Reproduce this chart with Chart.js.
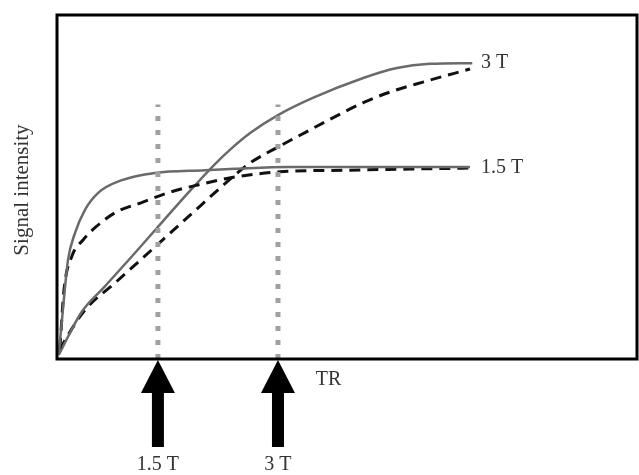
<!DOCTYPE html>
<html>
<head>
<meta charset="utf-8">
<script src="https://cdn.jsdelivr.net/npm/chart.js@4/dist/chart.umd.min.js"></script>
<style>
  html, body { margin: 0; padding: 0; background: #fff; }
  #wrap { width: 639px; height: 475px; position: relative; }
</style>
</head>
<body>
<div id="wrap"><canvas id="trChart"></canvas></div>
<script>
// ---- data (TR on x, signal on y, arbitrary units 0..100) ----
const solid15x = [0.3, 1.0, 1.9, 3.1, 4.8, 7.1, 11.2, 16.9, 25.5, 30.7, 40, 71.2];
const solid15y = [1.2, 14, 28.8, 36.6, 43.3, 48.3, 52, 54.1, 54.9, 55.3, 55.8, 55.8];

const dash15x = [0.5, 1.2, 2.6, 4.5, 6.7, 10.2, 14.8, 19.1, 24.3, 30.7, 38.4, 50.5, 71.2];
const dash15y = [3, 20, 30, 34.6, 38.4, 42.7, 45.6, 48.3, 50.6, 52.9, 54.4, 54.9, 55.5];

const solid3x = [0.3, 4.3, 8.3, 12.9, 17.4, 22.6, 27.2, 29.8, 33.3, 38.1, 44.1, 52.8, 58.6, 64.3, 71.6];
const solid3y = [1.2, 13.8, 21.2, 29.8, 38.4, 48.3, 56.6, 60.8, 65.7, 70.9, 75.9, 81.7, 84.6, 85.8, 86];

const dash3x = [0.5, 1.4, 4.8, 10.0, 16.9, 22.6, 30.7, 33.3, 38.4, 41.4, 47.1, 52.8, 57.4, 63.1, 71.2];
const dash3y = [2.6, 5.5, 14.2, 22.1, 32.6, 41.3, 53.5, 57, 61.9, 64.6, 69.7, 74.5, 77.6, 80.5, 84.3];

// optimal TR markers
const markerLabels = ['1.5 T', '3 T'];
const markerX = [17.4, 38.1];
const markerTop = 74;

const endLabels = ['3 T', '1.5 T'];
const endLabelY = [86.3, 55.8];
const endLabelX = 71.2;

function pts(xs, ys) {
  return xs.map((x, i) => ({ x: x, y: ys[i] }));
}

const serif = '"Liberation Serif", "DejaVu Serif", serif';

// box, arrows and texts
const decorPlugin = {
  id: 'decor',
  afterDraw(chart) {
    const ctx = chart.ctx;
    const a = chart.chartArea;
    const xs = chart.scales.x;
    const ys = chart.scales.y;
    ctx.save();

    // frame
    ctx.strokeStyle = '#000';
    ctx.lineWidth = 3;
    ctx.strokeRect(a.left, a.top, a.right - a.left, a.bottom - a.top);

    // arrows under the axis
    ctx.fillStyle = '#000';
    markerX.forEach(v => {
      const px = xs.getPixelForValue(v);
      const tip = a.bottom + 1;
      ctx.beginPath();
      ctx.moveTo(px, tip);
      ctx.lineTo(px + 17, tip + 33);
      ctx.lineTo(px + 6, tip + 33);
      ctx.lineTo(px + 6, tip + 87);
      ctx.lineTo(px - 6, tip + 87);
      ctx.lineTo(px - 6, tip + 33);
      ctx.lineTo(px - 17, tip + 33);
      ctx.closePath();
      ctx.fill();
    });

    ctx.fillStyle = '#333';
    ctx.font = '20px ' + serif;
    ctx.textBaseline = 'middle';
    ctx.textAlign = 'center';
    markerX.forEach((v, i) => {
      ctx.fillText(markerLabels[i], xs.getPixelForValue(v), a.bottom + 106);
    });
    ctx.fillText('TR', xs.getPixelForValue(46.8), a.bottom + 21);

    ctx.textAlign = 'left';
    endLabels.forEach((t, i) => {
      ctx.fillText(t, xs.getPixelForValue(endLabelX) + 11, ys.getPixelForValue(endLabelY[i]) + 1);
    });

    // y axis title
    ctx.translate(22, 190);
    ctx.rotate(-Math.PI / 2);
    ctx.textAlign = 'center';
    ctx.font = '21px ' + serif;
    ctx.fillText('Signal intensity', 0, 0);
    ctx.restore();
  }
};

const config = {
  type: 'line',
  data: {
    datasets: [
      {
        label: 'TR 1.5 T',
        data: [{ x: markerX[0], y: 0 }, { x: markerX[0], y: markerTop }],
        borderColor: '#a0a0a0',
        borderWidth: 5,
        borderDash: [5, 9],
        pointRadius: 0
      },
      {
        label: 'TR 3 T',
        data: [{ x: markerX[1], y: 0 }, { x: markerX[1], y: markerTop }],
        borderColor: '#a0a0a0',
        borderWidth: 5,
        borderDash: [5, 9],
        pointRadius: 0
      },
      {
        label: '1.5 T solid',
        data: pts(solid15x, solid15y),
        borderColor: '#6a6a6a',
        borderWidth: 2.5,
        pointRadius: 0,
        cubicInterpolationMode: 'monotone'
      },
      {
        label: '1.5 T dashed',
        data: pts(dash15x, dash15y),
        borderColor: '#111',
        borderWidth: 3,
        borderDash: [11, 7],
        pointRadius: 0,
        cubicInterpolationMode: 'monotone'
      },
      {
        label: '3 T solid',
        data: pts(solid3x, solid3y),
        borderColor: '#6a6a6a',
        borderWidth: 2.5,
        pointRadius: 0,
        cubicInterpolationMode: 'monotone'
      },
      {
        label: '3 T dashed',
        data: pts(dash3x, dash3y),
        borderColor: '#111',
        borderWidth: 3,
        borderDash: [11, 7],
        pointRadius: 0,
        cubicInterpolationMode: 'monotone'
      }
    ]
  },
  options: {
    responsive: true,
    maintainAspectRatio: false,
    animation: false,
    layout: { padding: { left: 57, top: 15, right: 2, bottom: 116 } },
    plugins: { legend: { display: false }, tooltip: { enabled: false } },
    scales: {
      x: { type: 'linear', min: 0, max: 100, display: false },
      y: { type: 'linear', min: 0, max: 100, display: false }
    }
  },
  plugins: [decorPlugin]
};

new Chart(document.getElementById('trChart'), config);
</script>
</body>
</html>
